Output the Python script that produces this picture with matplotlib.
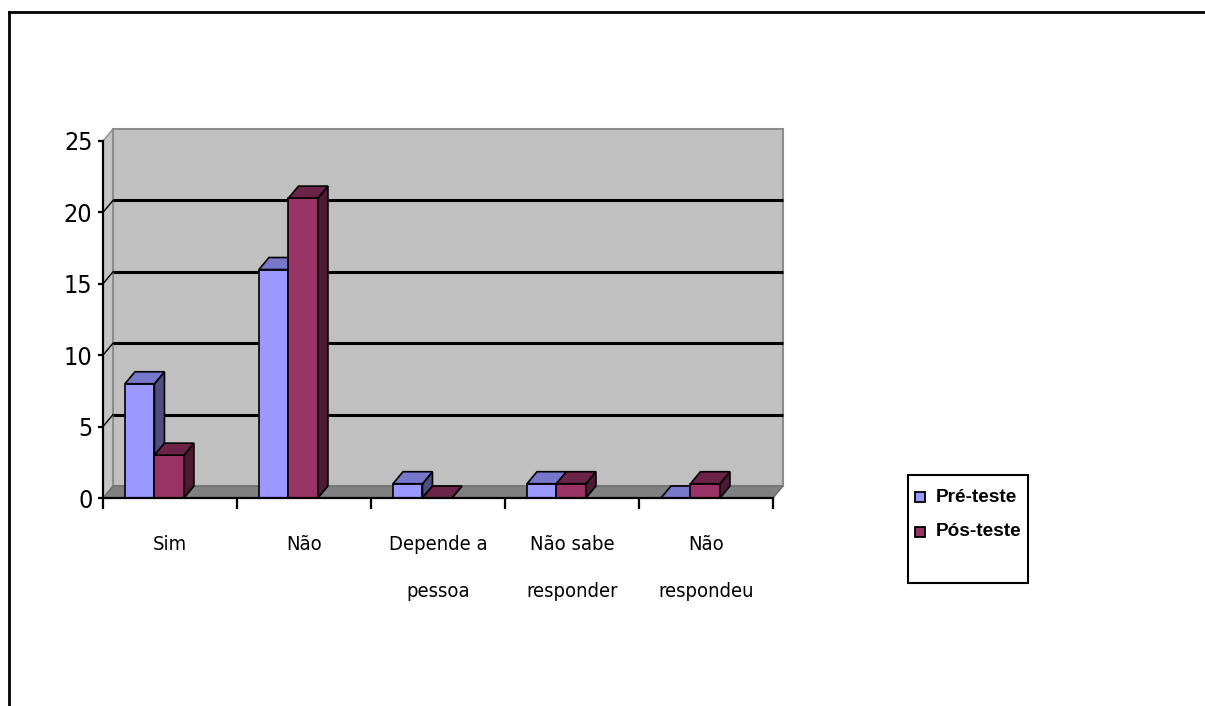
import matplotlib
matplotlib.use("Agg")
import matplotlib.pyplot as plt
from matplotlib.patches import Polygon, Rectangle
from matplotlib.lines import Line2D
from matplotlib import font_manager

# ---------------- data ----------------
categories = ["Sim", "Não", "Depende a\npessoa", "Não sabe\nresponder", "Não\nrespondeu"]
series_names = ["Pré-teste", "Pós-teste"]
pre_teste = [8, 16, 1, 1, 0]
pos_teste = [3, 21, 0, 1, 1]
y_ticks = [0, 5, 10, 15, 20, 25]

# ---------------- fonts ----------------
names = {f.name for f in font_manager.fontManager.ttflist}
narrow = "Liberation Sans Narrow" if "Liberation Sans Narrow" in names else "DejaVu Sans"
stretch = "condensed"

W, H = 1205, 706
fig = plt.figure(figsize=(W / 100, H / 100), dpi=100)
fig.patch.set_facecolor("white")

def fx(px):
    return px / W

def fy(py):
    return 1 - py / H

ax = fig.add_axes([fx(103), fy(498), (773 - 103) / W, (498 - 141) / H])
ax.set_xlim(0, 5)
ax.set_ylim(0, 25)
ax.patch.set_visible(False)

DX = 5 * 10 / 670.0
DY = 25 * 12 / 357.0
ymax = y_ticks[-1]
ncat = len(categories)

wall_c = "#C0C0C0"
wall_edge = "#8C8C8C"
floor_c = "#808080"

ax.add_patch(Polygon([(0, 0), (DX, DY), (DX, ymax + DY), (0, ymax)], closed=True,
                     facecolor="#C4C4C4", edgecolor=wall_edge, lw=1, clip_on=False, zorder=1))
ax.add_patch(Rectangle((DX, DY), ncat, ymax, facecolor=wall_c, edgecolor=wall_edge,
                       lw=1.5, clip_on=False, zorder=1))
ax.add_patch(Polygon([(0, 0), (ncat, 0), (ncat + DX, DY), (DX, DY)], closed=True,
                     facecolor=floor_c, edgecolor="#6E6E6E", lw=1, clip_on=False, zorder=2))

for v in y_ticks[1:-1]:
    ax.plot([DX, ncat + DX], [v + DY, v + DY], color="black", lw=2.2, zorder=3,
            clip_on=False, solid_capstyle="butt")
    ax.plot([0, DX], [v, v + DY], color="black", lw=1.0, zorder=3, clip_on=False)

front_cols = ["#9999FF", "#993366"]
top_cols = ["#7777CC", "#6B2347"]
side_cols = ["#4D4D80", "#4D1933"]
bw = 0.22
start = 0.164
z = 5
for i in range(ncat):
    for s, vals in enumerate([pre_teste, pos_teste]):
        v = vals[i]
        x0 = i + start + s * bw
        x1 = x0 + bw
        ax.add_patch(Rectangle((x0, 0), bw, v, facecolor=front_cols[s], edgecolor="black",
                               lw=1.2, zorder=z, clip_on=False))
        ax.add_patch(Polygon([(x1, 0), (x1 + DX, DY), (x1 + DX, v + DY), (x1, v)], closed=True,
                             facecolor=side_cols[s], edgecolor="black", lw=1.2, zorder=z,
                             clip_on=False))
        ax.add_patch(Polygon([(x0, v), (x1, v), (x1 + DX, v + DY), (x0 + DX, v + DY)], closed=True,
                             facecolor=top_cols[s], edgecolor="black", lw=1.2, zorder=z,
                             clip_on=False))
        z += 1

for sp in ["top", "right"]:
    ax.spines[sp].set_visible(False)
ax.spines["left"].set_linewidth(1.6)
ax.spines["bottom"].set_linewidth(1.6)
ax.spines["left"].set_zorder(50)
ax.spines["bottom"].set_zorder(50)
ax.set_yticks(y_ticks)
ax.set_yticklabels([str(t) for t in y_ticks], fontfamily=narrow, fontsize=18,
                   fontstretch=stretch)
ax.tick_params(axis="y", direction="out", length=3.6, width=1.6, pad=4)
ax.set_xticks(range(ncat + 1))
ax.set_xticklabels([""] * (ncat + 1))
ax.tick_params(axis="x", direction="out", length=8, width=1.6)

for i, lab in enumerate(categories):
    ax.text(i + 0.5, -0.103, lab, transform=ax.get_xaxis_transform(), ha="center", va="top",
            fontfamily=narrow, fontsize=14.5, fontstretch=stretch, linespacing=2.85)

# legend (manual)
fig.add_artist(Rectangle((fx(908), fy(583)), (1028 - 908) / W, (583 - 475) / H,
                         transform=fig.transFigure, facecolor="white", edgecolor="black", lw=1.5))
for k, name in enumerate(series_names):
    cy = 497 + 35 * k
    fig.add_artist(Rectangle((fx(915), fy(cy + 5)), 10 / W, 10 / H, transform=fig.transFigure,
                             facecolor=front_cols[k], edgecolor="black", lw=1.3))
    fig.text(fx(936), fy(cy), name, ha="left", va="center", fontfamily="Liberation Sans",
             fontweight="bold", fontsize=13.7)

fig.add_artist(Line2D([fx(9), 1.0], [fy(12), fy(12)], transform=fig.transFigure, color="black", lw=2))
fig.add_artist(Line2D([fx(9), fx(9)], [fy(12), 0.0], transform=fig.transFigure, color="black", lw=2))

fig.savefig("out.png", dpi=100)
